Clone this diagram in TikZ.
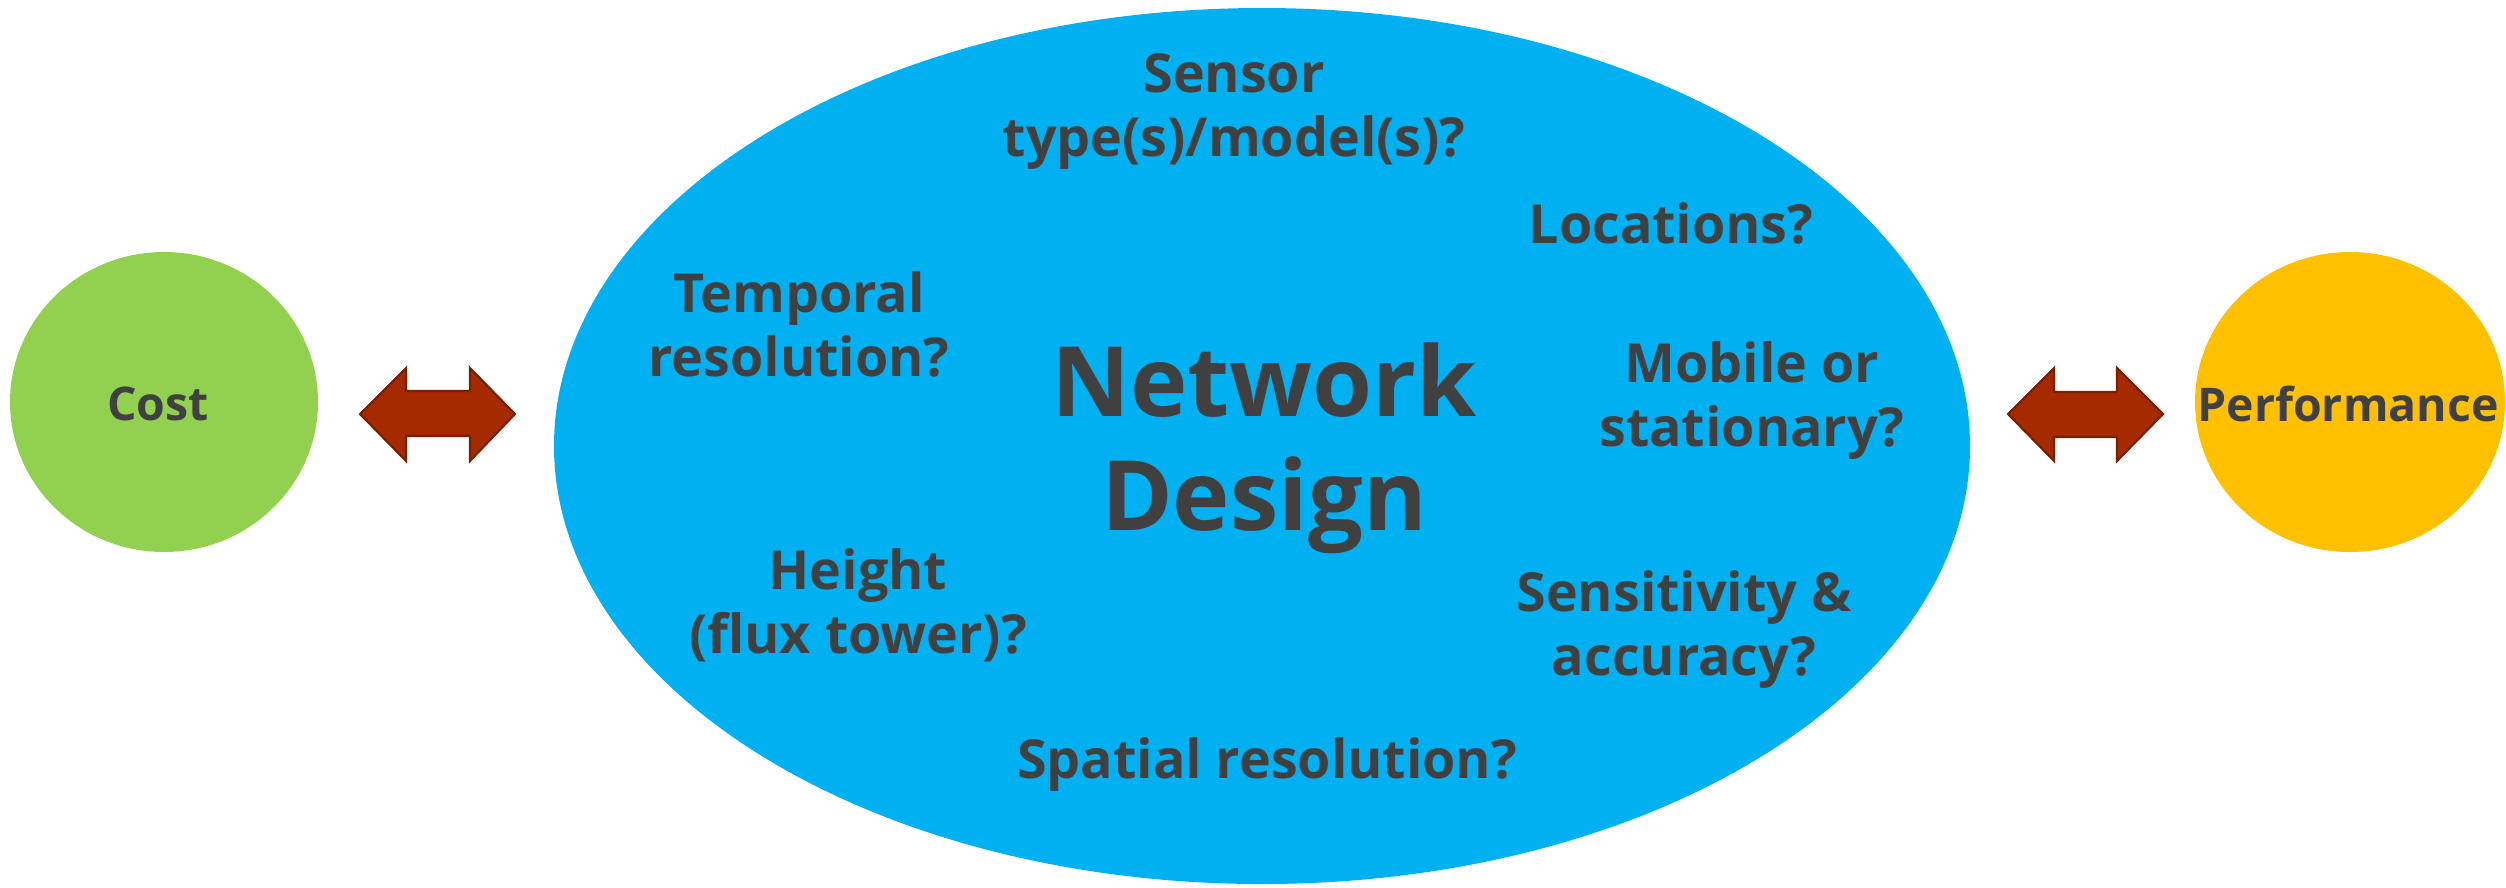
\documentclass[tikz,border=0pt]{standalone}
\usepackage{fontspec}
\setmainfont{Open Sans}
\definecolor{costgreen}{HTML}{92D050}
\definecolor{netblue}{HTML}{00B0F0}
\definecolor{perfyellow}{HTML}{FFC000}
\definecolor{arrowred}{HTML}{A52A00}
\definecolor{arrowedge}{HTML}{7A1E00}
\definecolor{txtgray}{HTML}{404040}
\tikzset{
  lbl/.style={align=center, inner sep=0pt, anchor=base, text=txtgray, font=\fontsize{15.3}{18.2}\selectfont\bfseries},
  bigl/.style={align=center, inner sep=0pt, anchor=base, text=txtgray, font=\fontsize{27.6}{32.2}\selectfont\bfseries},
  endl/.style={align=center, inner sep=0pt, anchor=base, text=txtgray, font=\fontsize{13.2}{16}\selectfont\bfseries},
  blockarrow/.style={fill=arrowred, draw=arrowedge, line width=0.6pt, line join=miter}
}
\begin{document}
\begin{tikzpicture}[x=0.01cm, y=-0.01cm]
\useasboundingbox (0,0) rectangle (2506,887);
% ellipses
\fill[costgreen] (164,402) ellipse [x radius=154, y radius=150];
\fill[netblue] (1262,446) ellipse [x radius=708, y radius=438];
\fill[perfyellow] (2350,402) ellipse [x radius=155, y radius=150];
% block arrows
\draw[blockarrow] (360,414) -- (406,368) -- (406,391) -- (470,391) -- (470,368) -- (515,414)
  -- (470,461) -- (470,436) -- (406,436) -- (406,461) -- cycle;
\draw[blockarrow] (2008,414) -- (2054,368) -- (2054,392) -- (2117,392) -- (2117,368) -- (2163,414)
  -- (2117,461) -- (2117,437) -- (2054,437) -- (2054,461) -- cycle;
% labels (placed at the baseline of the last line)
\node[endl] (cost) at (158,420) {Cost};
\node[endl] (perf) at (2348,421) {Performance};
\node[bigl] (net) at (1264,530) {Network\\Design};
\node[lbl] (sensor) at (1234,156) {Sensor\\type(s)/model(s)?};
\node[lbl] (loc) at (1671,243) {Locations?};
\node[lbl] (temp) at (799,376) {Temporal\\resolution?};
\node[lbl] (mob) at (1752,446) {Mobile or\\stationary?};
\node[lbl] (height) at (858,653) {Height\\(flux tower)?};
\node[lbl] (sens) at (1684,675) {Sensitivity \&\\accuracy?};
\node[lbl] (spat) at (1267,778) {Spatial resolution?};
\end{tikzpicture}
\end{document}
